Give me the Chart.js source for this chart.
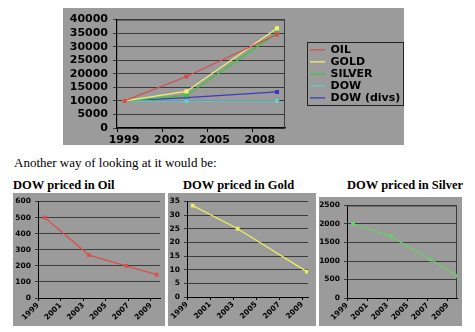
<!DOCTYPE html>
<html>
<head>
<meta charset="utf-8">
<script src="https://cdn.jsdelivr.net/npm/chart.js@4.4.0/dist/chart.umd.min.js"></script>
<style>
  body { margin: 0; background: #fff; width: 475px; height: 332px; overflow: hidden; position: relative; }
  .pane { position: absolute; }
  .pane canvas { display: block; }
  .note { position: absolute; font-family: "Liberation Serif", serif; white-space: nowrap; color: #000; }
  .title { font-weight: bold; font-size: 12.5px; line-height: 12.5px; }
</style>
</head>
<body>
<div class="pane" style="left:63px;top:8px"><canvas id="indexChart" width="341" height="137"></canvas></div>

<div class="note" style="left:14px;top:156px;font-size:13px;line-height:13px">Another way of looking at it would be:</div>

<div class="note title" style="left:13px;top:179px">DOW priced in Oil</div>
<div class="note title" style="left:183px;top:179px">DOW priced in Gold</div>
<div class="note title" style="left:347px;top:179px">DOW priced in Silver</div>

<div class="pane" style="left:13px;top:193px"><canvas id="oilChart" width="152" height="133"></canvas></div>
<div class="pane" style="left:168px;top:193px"><canvas id="goldChart" width="148" height="133"></canvas></div>
<div class="pane" style="left:319px;top:197px"><canvas id="silverChart" width="143" height="129"></canvas></div>

<script>
// Growth of 10000 invested, by asset
const indexYears = [1999.5, 2003.6, 2009.6];
const oilIndex = [10000, 19000, 34500];
const goldIndex = [10000, 13500, 36800];
const silverIndex = [10000, 12000, 35000];
const dowIndex = [10000, 10000, 10000];
const dowDivsIndex = [10000, 11200, 13300];
const indexYearTicks = [1999, 2002, 2005, 2008];

// The DOW expressed in units of each commodity
const oilYears = [1999.6, 2003.5, 2006.8, 2009.5];
const dowInOil = [500, 267, 200, 145];
const goldYears = [1999.5, 2003.4, 2009.4];
const dowInGold = [33.5, 25, 9.3];
const silverYears = [1999.6, 2003.3, 2007.3, 2009.9];
const dowInSilver = [2000, 1670, 1040, 600];
const smallYearTicks = [1999, 2001, 2003, 2005, 2007, 2009];

const GRAY = '#9b9b9b';
const GRID = '#3c3c3c';

function points(xs, ys) {
  return xs.map((x, i) => ({ x: x, y: ys[i] }));
}

function series(label, xs, ys, color, width, radius) {
  return {
    label: label,
    data: points(xs, ys),
    showLine: true,
    borderColor: color,
    backgroundColor: color,
    borderWidth: width || 1.3,
    pointStyle: 'rect',
    pointRadius: radius || 2,
    pointHoverRadius: radius || 2
  };
}

const grayBackground = {
  id: 'grayBackground',
  beforeDraw(chart) {
    const ctx = chart.ctx;
    ctx.save();
    ctx.fillStyle = GRAY;
    ctx.fillRect(0, 0, chart.width, chart.height);
    ctx.restore();
  }
};

const plotFrame = {
  id: 'plotFrame',
  beforeDatasetsDraw(chart) {
    const a = chart.chartArea;
    const ctx = chart.ctx;
    ctx.save();
    ctx.strokeStyle = GRID;
    ctx.lineWidth = 1;
    ctx.beginPath();
    ctx.moveTo(a.left, a.top + 0.5);
    ctx.lineTo(a.right - 0.5, a.top + 0.5);
    ctx.lineTo(a.right - 0.5, a.bottom);
    ctx.stroke();
    ctx.restore();
  }
};

// box around the legend entries
const legendFrame = {
  id: 'legendFrame',
  afterDraw(chart) {
    const boxes = chart.legend.legendHitBoxes;
    if (!boxes.length) return;
    let l = Infinity, t = Infinity, r = -Infinity, b = -Infinity;
    boxes.forEach(h => {
      l = Math.min(l, h.left); t = Math.min(t, h.top);
      r = Math.max(r, h.left + h.width); b = Math.max(b, h.top + h.height);
    });
    const ctx = chart.ctx;
    ctx.save();
    ctx.strokeStyle = '#222';
    ctx.lineWidth = 1;
    ctx.strokeRect(Math.round(l - 3) + 0.5, Math.round(t - 2) + 0.5, Math.round(r - l + 6), Math.round(b - t + 4));
    ctx.restore();
  }
};

const fixedTicks = list => axis => { axis.ticks = list.map(v => ({ value: v })); };
const plain = v => String(v);

new Chart(document.getElementById('indexChart'), {
  type: 'scatter',
  data: {
    datasets: [
      series('OIL', indexYears, oilIndex, '#d84c4c'),
      series('GOLD', indexYears, goldIndex, '#f4f070'),
      series('SILVER', indexYears, silverIndex, '#3fc43f'),
      series('DOW', indexYears, dowIndex, '#6ccaca'),
      series('DOW (divs)', indexYears, dowDivsIndex, '#3a3ac4')
    ]
  },
  options: {
    responsive: false,
    animation: false,
    events: [],
    layout: { padding: { top: 8, right: 0, bottom: 0, left: 0 } },
    scales: {
      x: {
        type: 'linear',
        min: 1999,
        max: 2010.13,
        afterBuildTicks: fixedTicks(indexYearTicks),
        afterFit(s) { s.height = 17; },
        grid: { drawOnChartArea: false, color: '#000', tickLength: 4 },
        border: { color: '#000', width: 1.2 },
        ticks: {
          autoSkip: false,
          maxRotation: 0,
          padding: 2,
          labelOffset: 7,
          color: '#000',
          font: { family: 'DejaVu Sans', weight: 'bold', size: 11 },
          callback: plain
        }
      },
      y: {
        min: 0,
        max: 40000,
        afterFit(s) { s.width = 54; },
        grid: { color: GRID, lineWidth: 1, tickLength: 4 },
        border: { color: '#000', width: 1.2 },
        ticks: {
          stepSize: 5000,
          autoSkip: false,
          padding: 5,
          color: '#000',
          font: { family: 'DejaVu Sans', weight: 'bold', size: 11 },
          callback: plain
        }
      },
      gap: {
        position: 'right',
        display: true,
        afterFit(s) { s.width = 24; },
        grid: { display: false },
        border: { display: false },
        ticks: { display: false }
      }
    },
    plugins: {
      tooltip: { enabled: false },
      legend: {
        position: 'right',
        fullSize: false,
        align: 'center',
        maxWidth: 95,
        labels: {
          usePointStyle: true,
          pointStyle: 'line',
          pointStyleWidth: 15,
          boxHeight: 10,
          padding: 1,
          color: '#000',
          font: { family: 'DejaVu Sans', weight: 'bold', size: 11 }
        }
      }
    }
  },
  plugins: [grayBackground, plotFrame, legendFrame]
});

function smallChart(id, xs, ys, color, yMax, yStep, xMax, axisWidth, axisHeight, pad, extra) {
  new Chart(document.getElementById(id), {
    type: 'scatter',
    data: { datasets: [series('DOW', xs, ys, color, 1.3, 1.8)] },
    options: {
      responsive: false,
      animation: false,
      events: [],
      layout: { padding: pad },
      scales: {
        x: {
          type: 'linear',
          min: 1999,
          max: xMax,
          afterBuildTicks: fixedTicks(smallYearTicks),
          afterFit(s) { s.height = axisHeight; },
          grid: { drawOnChartArea: false, color: '#000', tickLength: 3 },
          border: { color: '#000', width: 1 },
          ticks: {
            autoSkip: false,
            minRotation: 45,
            maxRotation: 45,
            padding: 0,
            color: '#000',
            font: { family: 'DejaVu Sans', weight: 'bold', size: 7.5 },
            callback: plain
          }
        },
        y: {
          min: 0,
          max: yMax,
          afterFit(s) { s.width = axisWidth; },
          grid: { color: GRID, lineWidth: 1, tickLength: 3 },
          border: { color: '#000', width: 1 },
          ticks: {
            stepSize: yStep,
            autoSkip: false,
            padding: 4,
            color: '#000',
            font: { family: 'DejaVu Sans', weight: 'bold', size: 7.5 },
            callback: plain
          }
        }
      },
      plugins: { legend: { display: false }, tooltip: { enabled: false } }
    },
    plugins: extra
  });
}

smallChart('oilChart', oilYears, dowInOil, '#d85050', 600, 100, 2009.8, 25, 28,
  { top: 6, right: 5, bottom: 0, left: 0 }, [grayBackground]);
smallChart('goldChart', goldYears, dowInGold, '#ecec64', 35, 5, 2009.5, 19, 29,
  { top: 6, right: 8, bottom: 0, left: 0 }, [grayBackground]);
smallChart('silverChart', silverYears, dowInSilver, '#6ccc6c', 2500, 500, 2009.9, 28, 28,
  { top: 5, right: 5, bottom: 0, left: 0 }, [grayBackground, plotFrame]);
</script>
</body>
</html>
